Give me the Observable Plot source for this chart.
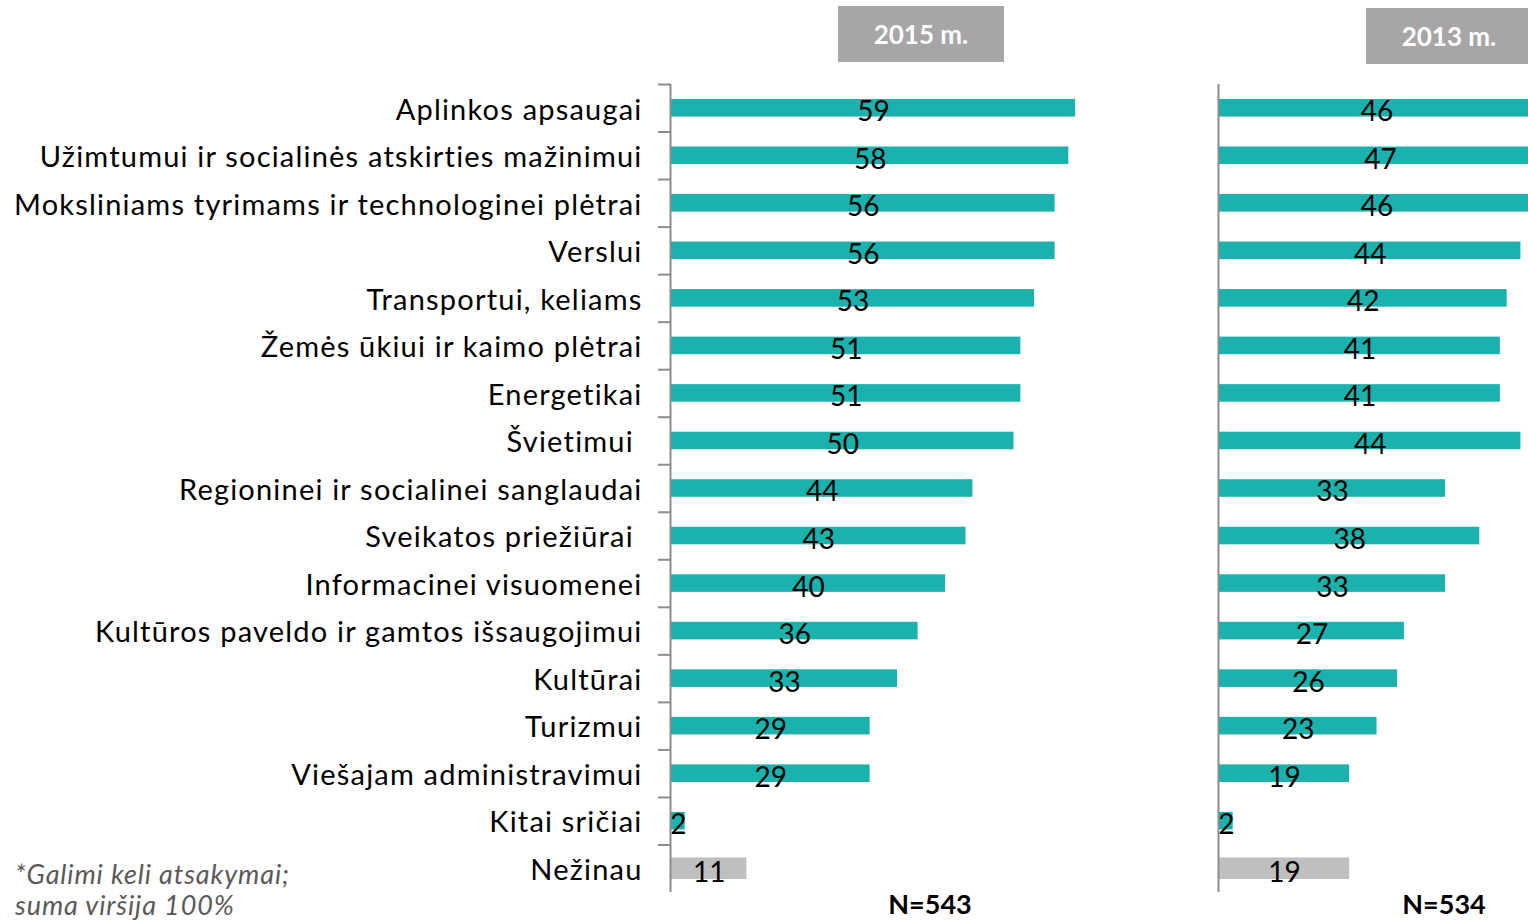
<!DOCTYPE html>
<html>
<head>
<meta charset="utf-8">
<script src="https://cdn.jsdelivr.net/npm/d3@7"></script>
<script src="https://cdn.jsdelivr.net/npm/@observablehq/plot@0.6"></script>
<style>
  html, body { margin: 0; padding: 0; background: #fff; }
  #wrap { position: relative; width: 1528px; height: 921px; overflow: hidden; font-family: Lato, "Open Sans", sans-serif; }
  .abs { position: absolute; }
  .hdr { background: #a6a6a6; color: #fff; font-weight: bold; font-size: 26px; text-align: center; width: 166px; height: 56px; line-height: 56px; }
  .nlab { font-weight: bold; font-size: 27px; color: #000; width: 140px; text-align: center; line-height: 26px; }
  .note { font-style: italic; font-size: 27px; color: #595959; line-height: 33px; letter-spacing: 0.9px; }
</style>
</head>
<body>
<div id="wrap"></div>
<script>
const categories = [
  "Aplinkos apsaugai",
  "Užimtumui ir socialinės atskirties mažinimui",
  "Moksliniams tyrimams ir technologinei plėtrai",
  "Verslui",
  "Transportui, keliams",
  "Žemės ūkiui ir kaimo plėtrai",
  "Energetikai",
  "Švietimui\u00a0",
  "Regioninei ir socialinei sanglaudai",
  "Sveikatos priežiūrai\u00a0",
  "Informacinei visuomenei",
  "Kultūros paveldo ir gamtos išsaugojimui",
  "Kultūrai",
  "Turizmui",
  "Viešajam administravimui",
  "Kitai sričiai",
  "Nežinau"
];
const values2015 = [59, 58, 56, 56, 53, 51, 51, 50, 44, 43, 40, 36, 33, 29, 29, 2, 11];
const values2013 = [46, 47, 46, 44, 42, 41, 41, 44, 33, 38, 33, 27, 26, 23, 19, 2, 19];
const panelTitles = ["2015 m.", "2013 m."];
const sampleSizes = ["N=543", "N=534"];
const unknownCategory = "Nežinau";
const noteLines = ["*Galimi keli atsakymai;", "suma viršija 100%"];

const TEAL = "#1bb1ad";
const GRAY = "#bfbfbf";
const AXIS = "#8c8c8c";
const PX_PER_UNIT = 6.85;
const MT = 84, MB = 29, H = 921;
const STEP = (H - MT - MB) / categories.length;

function panel(values, {width, marginLeft, showLabels}) {
  const rows = categories.map((c, i) => ({category: c, value: values[i], unknown: c === unknownCategory}));
  const xMax = (width - marginLeft) / PX_PER_UNIT;
  return Plot.plot({
    width,
    height: H,
    marginTop: MT,
    marginBottom: MB,
    marginLeft,
    marginRight: 0,
    style: {fontFamily: "Lato, 'Open Sans', sans-serif", background: "transparent"},
    x: {domain: [0, xMax], axis: null},
    y: {domain: categories, paddingInner: 0.63, paddingOuter: 0.315, round: false, axis: null, label: null},
    marks: [
      showLabels ? Plot.axisY({tickSize: 0, tickPadding: 29, fontSize: 29, dy: 2, fill: "#000", label: null}) : null,
      Plot.barX(rows.filter(d => !d.unknown), {y: "category", x: "value", fill: TEAL, clip: true}),
      Plot.barX(rows.filter(d => d.unknown), {y: "category", x: "value", fill: GRAY, insetTop: -2, insetBottom: -2, clip: true}),
      Plot.text(rows, {y: "category", x: d => d.value / 2, text: d => String(d.value), fontSize: 28, dy: 4, fill: "#000"}),
      Plot.ruleX([0], {stroke: AXIS, strokeWidth: 2, dx: -1}),
      showLabels ? Plot.ruleY(categories, {y: d => d, x1: -13 / PX_PER_UNIT, x2: 0, dy: -STEP / 2, stroke: AXIS, strokeWidth: 2}) : null
    ]
  });
}

const wrap = document.getElementById("wrap");

const p1 = panel(values2015, {width: 1180, marginLeft: 671, showLabels: true});
p1.style.position = "absolute"; p1.style.left = "0px"; p1.style.top = "0px";
d3.select(p1).selectAll('g[aria-label="y-axis tick label"] text').style("letter-spacing", "1.2px");
wrap.appendChild(p1);

const p2 = panel(values2013, {width: 348, marginLeft: 39, showLabels: false});
p2.style.position = "absolute"; p2.style.left = "1180px"; p2.style.top = "0px";
wrap.appendChild(p2);

function addDiv(cls, text, left, top) {
  const d = document.createElement("div");
  d.className = "abs " + cls;
  d.textContent = text;
  d.style.left = left + "px";
  d.style.top = top + "px";
  wrap.appendChild(d);
  return d;
}
addDiv("hdr", panelTitles[0], 838, 6);
addDiv("hdr", panelTitles[1], 1366, 8);
addDiv("nlab", sampleSizes[0], 930 - 70, 891);
addDiv("nlab", sampleSizes[1], 1444 - 70, 891);
addDiv("note", noteLines[0], 15, 857);
addDiv("note", noteLines[1], 15, 888);
</script>
</body>
</html>
